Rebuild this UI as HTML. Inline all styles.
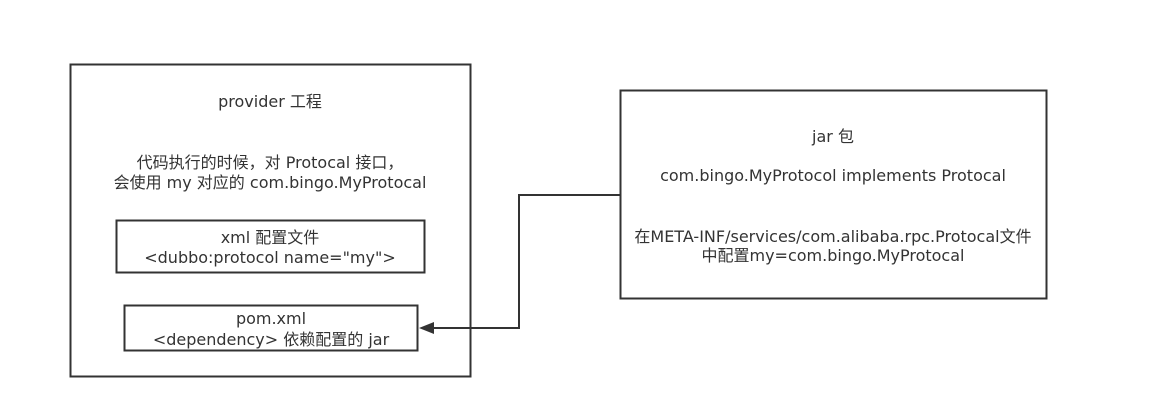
<!DOCTYPE html>
<html><head><meta charset="utf-8"><style>
html,body{margin:0;padding:0;background:#fff;}
svg text{font-family:"DejaVu Sans","Noto Sans CJK SC",sans-serif;font-size:16px;fill:#333;text-anchor:middle;}
</style></head><body>
<svg width="1162" height="412" viewBox="0 0 1162 412" xmlns="http://www.w3.org/2000/svg">
<g fill="none" stroke="#333" stroke-width="2">
<rect x="70.5" y="64.5" width="400" height="312"/>
<rect x="116.5" y="220.5" width="308" height="52"/>
<rect x="124.5" y="305.5" width="293" height="45"/>
<rect x="620.5" y="90.5" width="426" height="208"/>
<polyline points="620,195 519,195 519,328 432,328"/>
</g>
<polygon points="419,328 434,322 434,334" fill="#333"/>
<text x="270" y="107">provider 工程</text>
<text x="270" y="168">代码执行的时候，对 Protocal 接口，</text>
<text x="270" y="188">会使用 my 对应的 com.bingo.MyProtocal</text>
<text x="270" y="243">xml 配置文件</text>
<text x="270" y="263">&lt;dubbo:protocol name="my"&gt;</text>
<text x="271" y="324">pom.xml</text>
<text x="271" y="345">&lt;dependency&gt; 依赖配置的 jar</text>
<text x="833" y="142">jar 包</text>
<text x="833" y="181">com.bingo.MyProtocol implements Protocal</text>
<text x="833" y="242">在META-INF/services/com.alibaba.rpc.Protocal文件</text>
<text x="833" y="261">中配置my=com.bingo.MyProtocal</text>
</svg>
</body></html>
